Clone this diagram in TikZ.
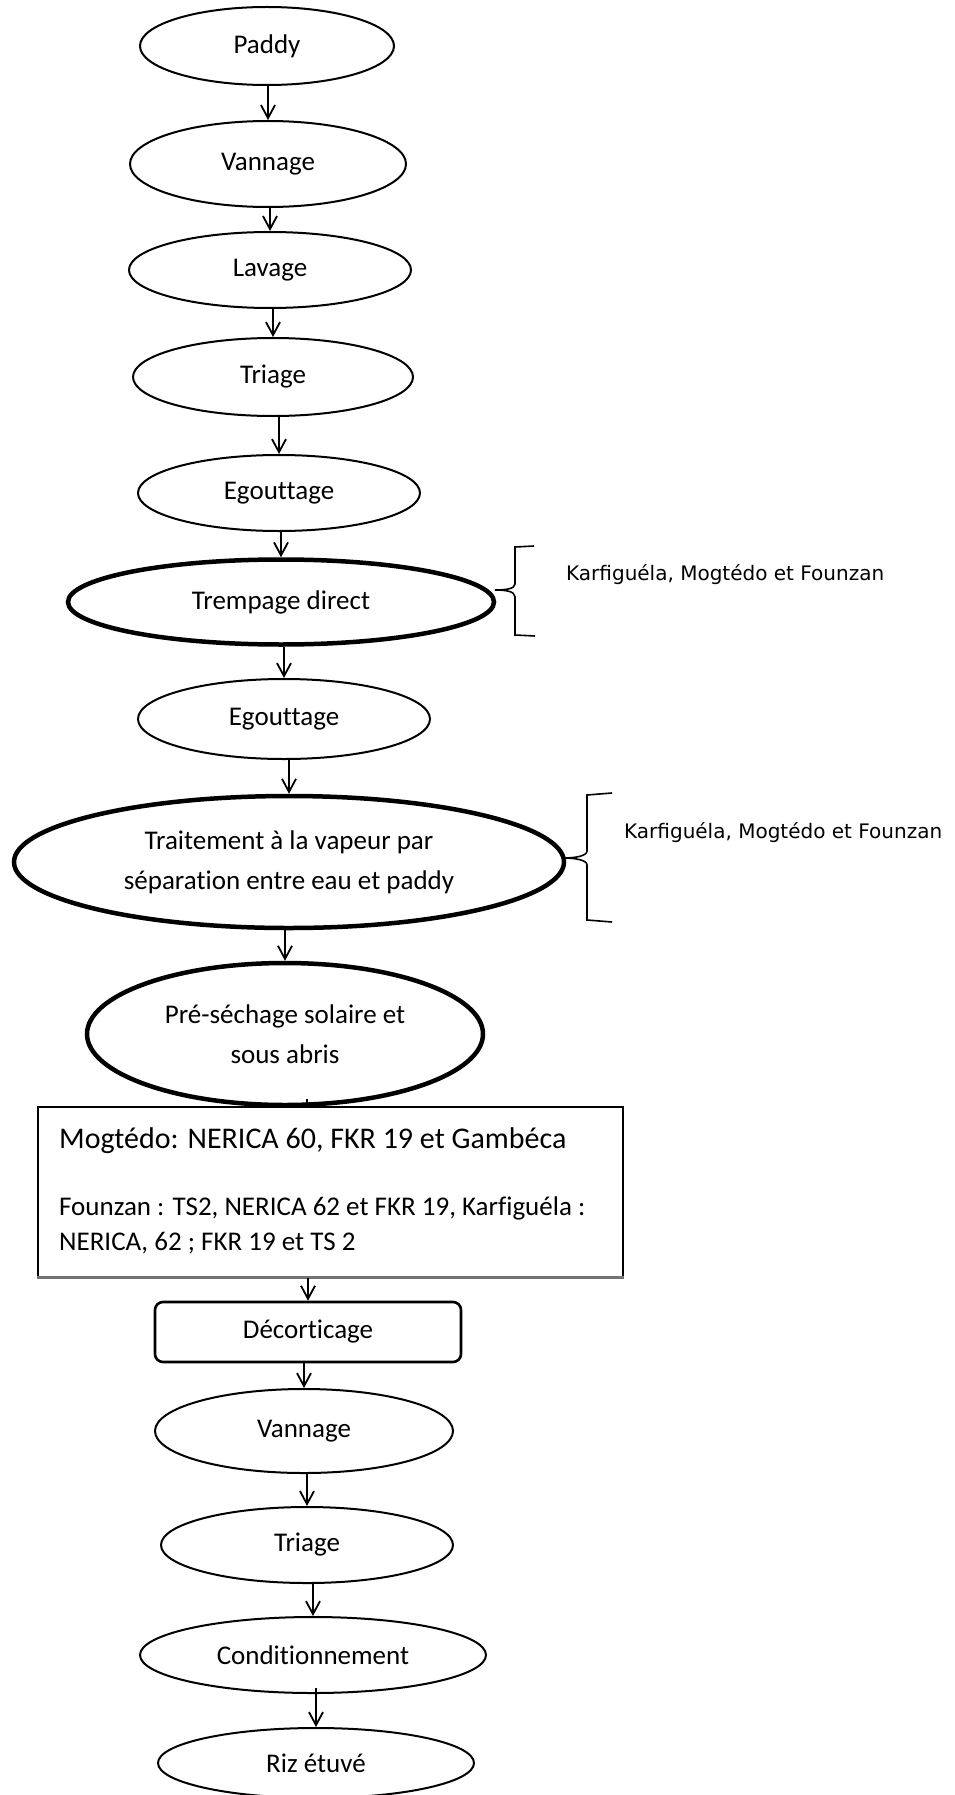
\documentclass[tikz,border=0pt]{standalone}
\usepackage{fontspec}
\setmainfont{Carlito}[Ligatures=NoCommon]
\newfontfamily\dejavu{DejaVu Sans}
\usetikzlibrary{shapes.geometric,arrows.meta}
\begin{document}
\begin{tikzpicture}[x=1pt,y=-1pt,
  el/.style={ellipse,draw,line width=2pt,inner sep=0pt,font=\fontsize{27}{40}\selectfont,align=center},
  elthick/.style={el,line width=4.5pt},
  arr/.style={-{Straight Barb[length=13pt,width=14pt,line width=1.8pt]},line width=1.8pt},
  lab/.style={anchor=west,inner sep=0pt,font=\dejavu\fontsize{20}{24}\selectfont},
  brace/.style={line width=1.6pt},
  boxtext/.style={anchor=base west,inner sep=0pt}
]
\useasboundingbox (0,0) rectangle (955,1795);
% nodes
\node[el,minimum width=254,minimum height=78] (paddy) at (267,46) {Paddy};
\node[el,minimum width=276,minimum height=86] (van1) at (268,164) {Vannage};
\node[el,minimum width=282,minimum height=76] (lav) at (270,270) {Lavage};
\node[el,minimum width=280,minimum height=78] (tri1) at (273,377) {Triage};
\node[el,minimum width=282,minimum height=76] (egou1) at (279,493) {Egouttage};
\node[elthick,minimum width=426,minimum height=85] (tremp) at (281,602) {Trempage direct};
\node[el,minimum width=292,minimum height=80] (egou2) at (284,719) {Egouttage};
\node[elthick,minimum width=550,minimum height=132] (trait) at (289,862) {Traitement à la vapeur par\\séparation entre eau et paddy};
\node[elthick,minimum width=396,minimum height=142] (pre) at (285,1034) {Pré-séchage solaire et\\sous abris};
\node[draw,line width=1.5pt,rectangle,minimum width=585,minimum height=170,inner sep=0pt] (box) at (330.5,1192) {};
\node[draw,line width=2.6pt,rectangle,rounded corners=8pt,minimum width=306,minimum height=60,inner sep=0pt,font=\fontsize{27}{32}\selectfont] (dec) at (308,1332) {Décorticage};
\node[el,minimum width=298,minimum height=84] (van2) at (304,1431) {Vannage};
\node[el,minimum width=292,minimum height=76] (tri2) at (307,1545) {Triage};
\node[el,minimum width=346,minimum height=76] (cond) at (313,1655) {Conditionnement};
\node[el,minimum width=316,minimum height=70] (riz) at (316,1763) {Riz étuvé};
% box texts
\node[boxtext,font=\fontsize{30}{36}\selectfont] (t1) at (59,1148) {Mogtédo: NERICA 60, FKR 19 et Gambéca};
\node[boxtext,font=\fontsize{27}{32}\selectfont] (t2) at (59,1215) {Founzan : TS2, NERICA 62 et FKR 19, Karfiguéla :};
\node[boxtext,font=\fontsize{27}{32}\selectfont] (t3) at (59,1250) {NERICA, 62 ; FKR 19 et TS 2};
\draw[black!55,line width=3pt] (box.south west) -- (box.south east);
% brace labels
\node[lab] (lab1) at (566,575) {Karfiguéla, Mogtédo et Founzan};
\node[lab] (lab2) at (624,833) {Karfiguéla, Mogtédo et Founzan};
% braces
\draw[brace] (534,546) -- (515,547) -- (515,584) .. controls (515,589) and (505,590) .. (495,590) .. controls (505,590) and (515,591) .. (515,597) -- (515,635) -- (535,636);
\draw[brace] (612,793) -- (587,795) -- (587,851) .. controls (587,856) and (575,858) .. (564,858) .. controls (575,858) and (587,860) .. (587,865) -- (587,920) -- (612,922);
% connectors
\draw[arr] (paddy.south -| van1.north) -- (van1.north);
\draw[arr] (van1.south -| lav.north) -- (lav.north);
\draw[arr] (lav.south -| tri1.north) -- (tri1.north);
\draw[arr] (tri1.south -| egou1.north) -- (egou1.north);
\draw[arr] (egou1.south -| tremp.north) -- (tremp.north);
\draw[arr] (tremp.south -| egou2.north) -- (egou2.north);
\draw[arr] (egou2.south -| trait.north) -- (trait.north);
\draw[arr] (trait.south -| pre.north) -- (pre.north);
\coordinate (tick) at (307,1099);
\draw[line width=1.8pt] (tick) -- (tick |- box.north);
\draw[arr] (box.south -| dec.north) -- (dec.north);
\draw[arr] (dec.south -| van2.north) -- (van2.north);
\draw[arr] (van2.south -| tri2.north) -- (tri2.north);
\draw[arr] (tri2.south -| cond.north) -- (cond.north);
\draw[arr] ([yshift=6pt]cond.south -| riz.north) -- (riz.north);
\end{tikzpicture}
\end{document}
